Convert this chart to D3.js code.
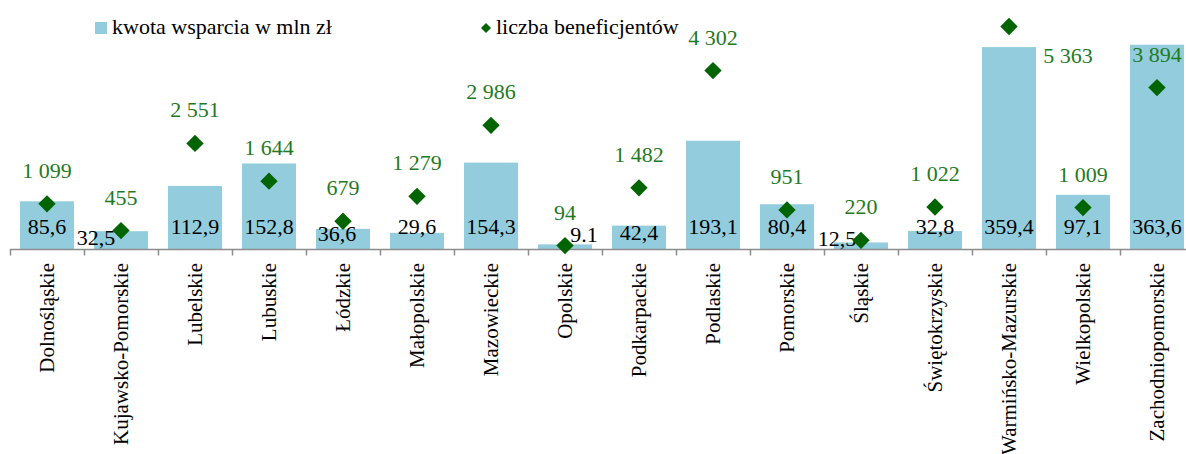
<!DOCTYPE html>
<html>
<head>
<meta charset="utf-8">
<script src="https://cdn.jsdelivr.net/npm/d3@7/dist/d3.min.js"></script>
<style>
  html, body { margin: 0; padding: 0; background: #fff; }
  svg { display: block; }
  text { font-family: "Liberation Serif", "Times New Roman", serif; }
</style>
</head>
<body>
<svg id="chart" width="1186" height="454"></svg>
<script>
// Voivodeships
const regions = [
  "Dolnośląskie", "Kujawsko-Pomorskie", "Lubelskie", "Lubuskie", "Łódzkie",
  "Małopolskie", "Mazowieckie", "Opolskie", "Podkarpackie", "Podlaskie",
  "Pomorskie", "Śląskie", "Świętokrzyskie", "Warmińsko-Mazurskie",
  "Wielkopolskie", "Zachodniopomorskie"
];
// Support amount, mln zł
const amounts = [85.6, 32.5, 112.9, 152.8, 36.6, 29.6, 154.3, 9.1, 42.4, 193.1, 80.4, 12.5, 32.8, 359.4, 97.1, 363.6];
// Number of beneficiaries
const beneficiaries = [1099, 455, 2551, 1644, 679, 1279, 2986, 94, 1482, 4302, 951, 220, 1022, 5363, 1009, 3894];
// Series names
const seriesNames = ["kwota wsparcia w mln zł", "liczba beneficjentów"];

const data = regions.map((r, i) => ({ region: r, amount: amounts[i], count: beneficiaries[i] }));

const svg = d3.select("#chart");
const BAR = "#93cddd", DIAMOND = "#006400", GREEN_TXT = "#1f7a1f", AXIS = "#8c8c8c";

const left = 10, bandW = 74, baseY = 249.5, topY = 0;
const x = d3.scaleBand().domain(regions).range([left, left + bandW * regions.length]).paddingInner(0.27).paddingOuter(0.135);
const y = d3.scaleLinear().domain([0, 443]).range([baseY, topY]);
const y2 = d3.scaleLinear().domain([0, 6000]).range([baseY, topY]);

// Hand-placed data labels that would otherwise collide
const amountNudge = {
  "Kujawsko-Pomorskie": [-25, 11], "Łódzkie": [-6, 7], "Opolskie": [19, 8],
  "Podkarpackie": [0, 6], "Śląskie": [-24, 12]
};
const amountText = { "Opolskie": "9.1" };
const countNudge = { "Warmińsko-Mazurskie": [59, 37] };

const fmtAmount = d => amountText[d.region] || d.amount.toFixed(1).replace(".", ",");
const fmtCount = v => d3.format(",")(v).replace(/,/g, " ");
const cx = d => x(d.region) + x.bandwidth() / 2;

// Bars
svg.append("g").selectAll("rect").data(data).join("rect")
  .attr("x", d => x(d.region))
  .attr("y", d => y(d.amount))
  .attr("width", x.bandwidth())
  .attr("height", d => y(0) - y(d.amount))
  .attr("fill", BAR);

// Category axis with ticks on band boundaries
const axisG = svg.append("g");
axisG.append("line")
  .attr("x1", left).attr("x2", 1186)
  .attr("y1", baseY).attr("y2", baseY)
  .attr("stroke", AXIS).attr("stroke-width", 1.5);
axisG.selectAll("line.tick").data(d3.range(regions.length + 1)).join("line")
  .attr("class", "tick")
  .attr("x1", i => left + i * bandW + 0.5).attr("x2", i => left + i * bandW + 0.5)
  .attr("y1", baseY).attr("y2", baseY + 6)
  .attr("stroke", AXIS).attr("stroke-width", 1.5);
axisG.selectAll("text").data(regions).join("text")
  .attr("transform", r => `translate(${x(r) + x.bandwidth() / 2 + 7},263) rotate(-90)`)
  .attr("text-anchor", "end")
  .attr("font-size", 21)
  .attr("fill", "#000")
  .text(r => r);

// Amount labels inside bar bases
svg.append("g").selectAll("text").data(data).join("text")
  .attr("x", d => cx(d) + (amountNudge[d.region] || [0, 0])[0])
  .attr("y", d => y(0) - 16 + (amountNudge[d.region] || [0, 0])[1])
  .attr("text-anchor", "middle")
  .attr("font-size", 22)
  .attr("fill", "#000")
  .text(fmtAmount);

// Beneficiary markers
const diamond = d3.symbol().type(d3.symbolSquare);
svg.append("g").selectAll("path").data(data).join("path")
  .attr("d", diamond.size(150)())
  .attr("transform", d => `translate(${cx(d)},${y2(d.count)}) rotate(45)`)
  .attr("fill", DIAMOND);

// Beneficiary labels
svg.append("g").selectAll("text").data(data).join("text")
  .attr("x", d => cx(d) + (countNudge[d.region] || [0, -26])[0])
  .attr("y", d => y2(d.count) + (countNudge[d.region] || [0, -26])[1])
  .attr("text-anchor", "middle")
  .attr("font-size", 22)
  .attr("fill", GREEN_TXT)
  .text(d => fmtCount(d.count));

// Legend
const lg = svg.append("g");
lg.append("rect").attr("x", 95).attr("y", 22).attr("width", 12).attr("height", 12).attr("fill", BAR);
lg.append("text").attr("x", 112).attr("y", 34).attr("font-size", 22).attr("fill", "#000").text(seriesNames[0]);
lg.append("path").attr("d", d3.symbol().type(d3.symbolSquare).size(50)())
  .attr("transform", "translate(486,28) rotate(45)").attr("fill", DIAMOND);
lg.append("text").attr("x", 496).attr("y", 34).attr("font-size", 22).attr("fill", "#000").text(seriesNames[1]);
</script>
</body>
</html>
